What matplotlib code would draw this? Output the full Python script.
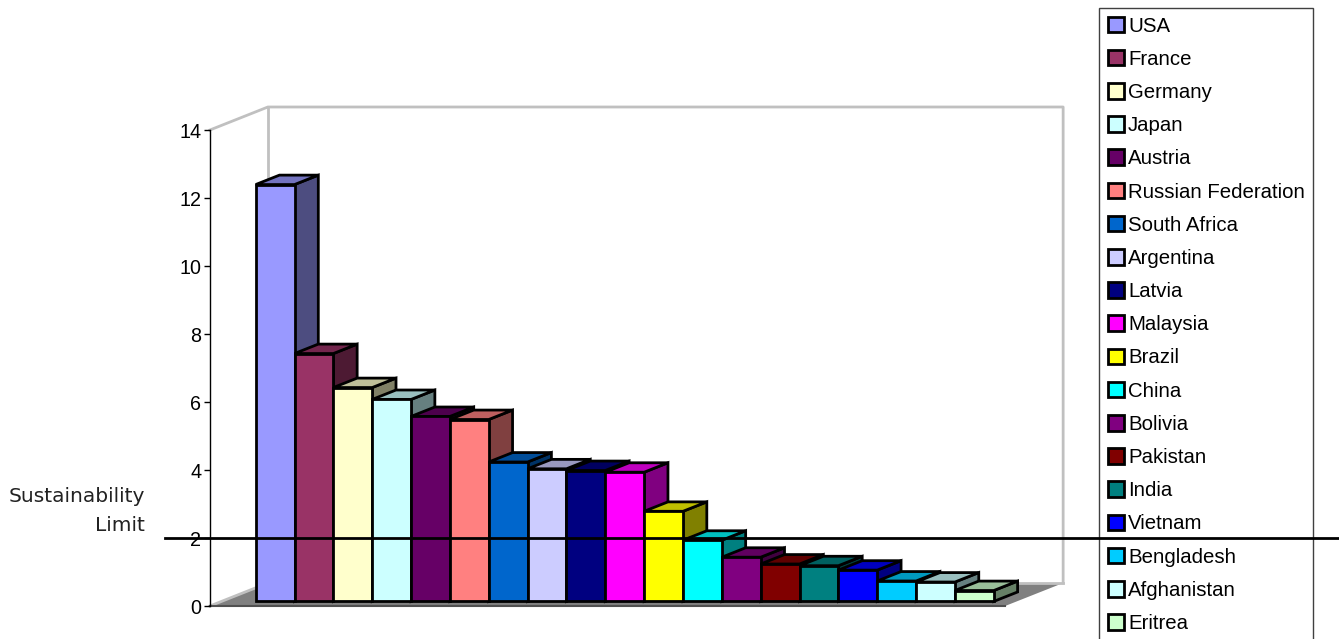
import matplotlib
matplotlib.use('Agg')
import matplotlib.pyplot as plt
import matplotlib.transforms as mtransforms
from matplotlib.patches import Polygon, Patch
from matplotlib.colors import to_rgb

countries = ['USA', 'France', 'Germany', 'Japan', 'Austria', 'Russian Federation',
             'South Africa', 'Argentina', 'Latvia', 'Malaysia', 'Brazil', 'China',
             'Bolivia', 'Pakistan', 'India', 'Vietnam', 'Bengladesh', 'Afghanistan', 'Eritrea']
footprint = [12.26, 7.29, 6.29, 5.94, 5.44, 5.35, 4.1, 3.9, 3.85, 3.8,
             2.65, 1.8, 1.3, 1.1, 1.05, 0.92, 0.6, 0.57, 0.32]
colors = ['#9999FF', '#993366', '#FFFFCC', '#CCFFFF', '#660066', '#FF8080',
          '#0066CC', '#CCCCFF', '#000080', '#FF00FF', '#FFFF00', '#00FFFF',
          '#800080', '#800000', '#008080', '#0000FF', '#00CCFF', '#CCFFFF', '#CCFFCC']
y_ticks = [0, 2, 4, 6, 8, 10, 12, 14]
sustainability_limit = 2

plt.rcParams['font.family'] = ['Liberation Sans', 'DejaVu Sans']

# figure / pseudo-3d geometry (pixels)
W, H, DPI = 1339, 639, 100
PX, PY = 38.85, 34.0          # pixels per category, per value unit
X0, Y0 = 263.5, 606           # pixel of category 0 and of value 0 (front plane)
DX, DY = 58 / PX, 23 / PY     # depth of the floor in data units
BAR_FRONT, BAR_DEPTH = 0.2, 0.41

n = len(countries)
fig = plt.figure(figsize=(W / DPI, H / DPI), dpi=DPI)
ax = fig.add_axes([0, 0, 1, 1])
ax.set_xlim(-X0 / PX, (W - X0) / PX)
ax.set_ylim((Y0 - H) / PY, Y0 / PY)

xl, xr = -0.5 - 0.88, n - 0.5 + 0.59
top = y_ticks[-1]

# floor and walls
ax.add_patch(Polygon([(xl, 0), (xr, 0), (xr + DX, DY), (xl + DX, DY)],
                     closed=True, fc='#808080', ec='none', zorder=1))
ax.plot([xl, xr], [0, 0], color='#505050', lw=1.5, zorder=1.1)
wall = dict(color='#C0C0C0', lw=2, zorder=1.05, solid_capstyle='projecting')
ax.plot([xl, xl + DX, xr + DX, xr + DX], [top, top + DY, top + DY, DY], **wall)
ax.plot([xl + DX, xl + DX, xr + DX], [top + DY, DY, DY], **wall)
ax.plot([xl, xl + DX], [0, DY], **wall)

# bars: front face through ax.bar, side + top as shaded polygons
fx, fy = BAR_FRONT * DX, BAR_FRONT * DY
sx, sy = BAR_DEPTH * DX, BAR_DEPTH * DY
bars = ax.bar([i + fx for i in range(n)], footprint, width=1.0, bottom=fy,
              color=colors, edgecolor='black', linewidth=2)
for i, (rect, v, c) in enumerate(zip(bars, footprint, colors)):
    z = 2 + i * 0.01
    rgb = to_rgb(c)
    l, r, b = rect.get_x(), rect.get_x() + rect.get_width(), fy
    side = Polygon([(r, b), (r + sx, b + sy), (r + sx, b + v + sy), (r, b + v)],
                   closed=True, fc=[k * 0.5 for k in rgb], ec='black', lw=2, zorder=z)
    lid = Polygon([(l, b + v), (r, b + v), (r + sx, b + v + sy), (l + sx, b + v + sy)],
                  closed=True, fc=[k * 0.75 for k in rgb], ec='black', lw=2, zorder=z)
    ax.add_patch(side)
    ax.add_patch(lid)
    rect.set_zorder(z + 0.005)

# value axis on the front plane
for s in ['top', 'right', 'bottom']:
    ax.spines[s].set_visible(False)
ax.spines['left'].set_position(('data', xl))
ax.spines['left'].set_bounds(0, top)
ax.spines['left'].set_linewidth(1)
ax.set_yticks(y_ticks)
ax.set_xticks([])
ax.tick_params(axis='y', direction='out', length=4.3, width=1, labelsize=14.2, pad=2)
ax.patch.set_visible(False)

# sustainability limit
ax.axhline(sustainability_limit, xmin=165 / W, xmax=1, color='black', lw=2, zorder=6)
ax.annotate('Sustainability\nLimit', xy=(145 / W, sustainability_limit),
            xycoords=mtransforms.blended_transform_factory(ax.transAxes, ax.transData),
            xytext=(0, 7), textcoords='offset pixels', ha='right', va='baseline',
            multialignment='right', fontsize=14.5, family='DejaVu Sans',
            linespacing=1.7, color='#222222')

handles = [Patch(facecolor=c, edgecolor='black', linewidth=2, label=name)
           for name, c in zip(countries, colors)]
leg = ax.legend(handles=handles, loc='upper left', bbox_to_anchor=(1099 / W, 1 - 8 / H),
                borderaxespad=0, fancybox=False, edgecolor='#404040', framealpha=1,
                fontsize=14.7, handlelength=0.8, handleheight=0.8, handletextpad=0.2,
                labelspacing=0.695, borderpad=0.42)
leg.get_frame().set_linewidth(1)
leg.set_zorder(5)

fig.savefig('out.png', dpi=DPI)
